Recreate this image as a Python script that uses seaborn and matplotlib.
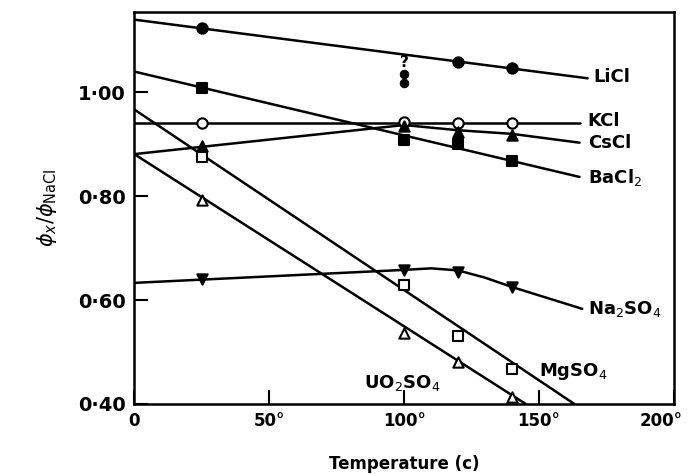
import seaborn as sns
from matplotlib import pyplot as plt
from matplotlib import transforms
import numpy as np

# temperatures where the measured points sit
temps = [25, 100, 120, 140]

licl_pts = [1.123, None, 1.058, 1.046]
kcl_pts = [0.940, 0.942, 0.940, 0.940]
cscl_pts = [0.897, 0.935, 0.924, 0.918]
bacl2_pts = [1.008, 0.908, 0.900, 0.867]
na2so4_pts = [0.641, 0.658, 0.653, 0.625]
mgso4_pts = [0.875, 0.628, 0.531, 0.468]
uo2so4_pts = [0.793, 0.537, 0.480, 0.413]

# doubtful LiCl points at 100
licl_q_x = [100, 100]
licl_q_y = [1.035, 1.018]

# drawn curves
licl_line_x = [0, 168]
licl_line_y = [1.140, 1.027]
kcl_line_x = [0, 165]
kcl_line_y = [0.940, 0.940]
cscl_line_x = [0, 100, 120, 140, 165]
cscl_line_y = [0.881, 0.937, 0.927, 0.920, 0.903]
bacl2_line_x = [0, 165]
bacl2_line_y = [1.040, 0.837]
na2so4_line_x = [0, 100, 110, 120, 130, 140, 166]
na2so4_line_y = [0.633, 0.658, 0.661, 0.657, 0.643, 0.625, 0.583]
mgso4_line_x = [0, 163]
mgso4_line_y = [0.967, 0.400]
uo2so4_line_x = [0, 145]
uo2so4_line_y = [0.881, 0.400]

xticks = [0, 50, 100, 150, 200]
xtick_labels = ['0', '50°', '100°', '150°', '200°']
yticks = [0.40, 0.60, 0.80, 1.00]
ytick_labels = ['0·40', '0·60', '0·80', '1·00']

sns.set_style("ticks")
plt.rcParams['font.family'] = ['DejaVu Sans']
for key in ['text.color', 'axes.labelcolor', 'xtick.color', 'ytick.color',
            'axes.edgecolor']:
    plt.rcParams[key] = 'black'

fig = plt.figure(figsize=(6.92, 4.74), dpi=100)
ax = fig.add_axes([0.194, 0.148, 0.780, 0.827])

lines = [
    (licl_line_x, licl_line_y), (kcl_line_x, kcl_line_y),
    (cscl_line_x, cscl_line_y), (bacl2_line_x, bacl2_line_y),
    (na2so4_line_x, na2so4_line_y), (mgso4_line_x, mgso4_line_y),
    (uo2so4_line_x, uo2so4_line_y),
]
for lx, ly in lines:
    sns.lineplot(x=lx, y=ly, ax=ax, color='black', lw=1.8, sort=False,
                 estimator=None)

points = [
    (licl_pts, 'o', 'black'), (kcl_pts, 'o', 'white'),
    (cscl_pts, '^', 'black'), (bacl2_pts, 's', 'black'),
    (na2so4_pts, 'v', 'black'), (mgso4_pts, 's', 'white'),
    (uo2so4_pts, '^', 'white'),
]
for vals, mk, fc in points:
    xs = [t for t, v in zip(temps, vals) if v is not None]
    ys = [v for v in vals if v is not None]
    sns.scatterplot(x=xs, y=ys, ax=ax, marker=mk, s=55, color=fc,
                    edgecolor='black', linewidth=1.5, zorder=3)

sns.scatterplot(x=licl_q_x, y=licl_q_y, ax=ax, marker='o', s=40,
                color='black', edgecolor='black', zorder=3)
ax.text(100, 1.058, '?', ha='center', va='center', fontsize=11,
        fontweight='bold')

labels = [
    (170, 1.030, 'LiCl'), (168, 0.944, 'KCl'), (168, 0.902, 'CsCl'),
    (168, 0.836, 'BaCl$_2$'), (168, 0.583, 'Na$_2$SO$_4$'),
    (150, 0.463, 'MgSO$_4$'), (85, 0.440, 'UO$_2$SO$_4$'),
]
for lx, ly, txt in labels:
    ax.text(lx, ly, txt, ha='left', va='center', fontsize=13,
            fontweight='bold')

ax.set_xlim(0, 200)
ax.set_ylim(0.40, 1.155)
ax.set_xticks(xticks)
ax.set_xticklabels(xtick_labels, fontsize=12, fontweight='bold')
ax.set_yticks(yticks)
ax.set_yticklabels(ytick_labels, fontsize=14, fontweight='bold')
ax.tick_params(direction='in', length=10, width=1.5, pad=6)
for sp in ax.spines.values():
    sp.set_linewidth(1.8)

# nudge the last tick label so it stays inside the figure
last = ax.get_xticklabels()[-1]
last.set_transform(last.get_transform() +
                   transforms.ScaledTranslation(-9 / 72, 0, fig.dpi_scale_trans))

ax.set_xlabel('Temperature (c)', fontsize=12, fontweight='bold', labelpad=18)
ax.set_ylabel(r'$\phi_x / \phi_{\mathrm{NaCl}}$', fontsize=15, labelpad=14)

fig.savefig('out.png', dpi=100)
